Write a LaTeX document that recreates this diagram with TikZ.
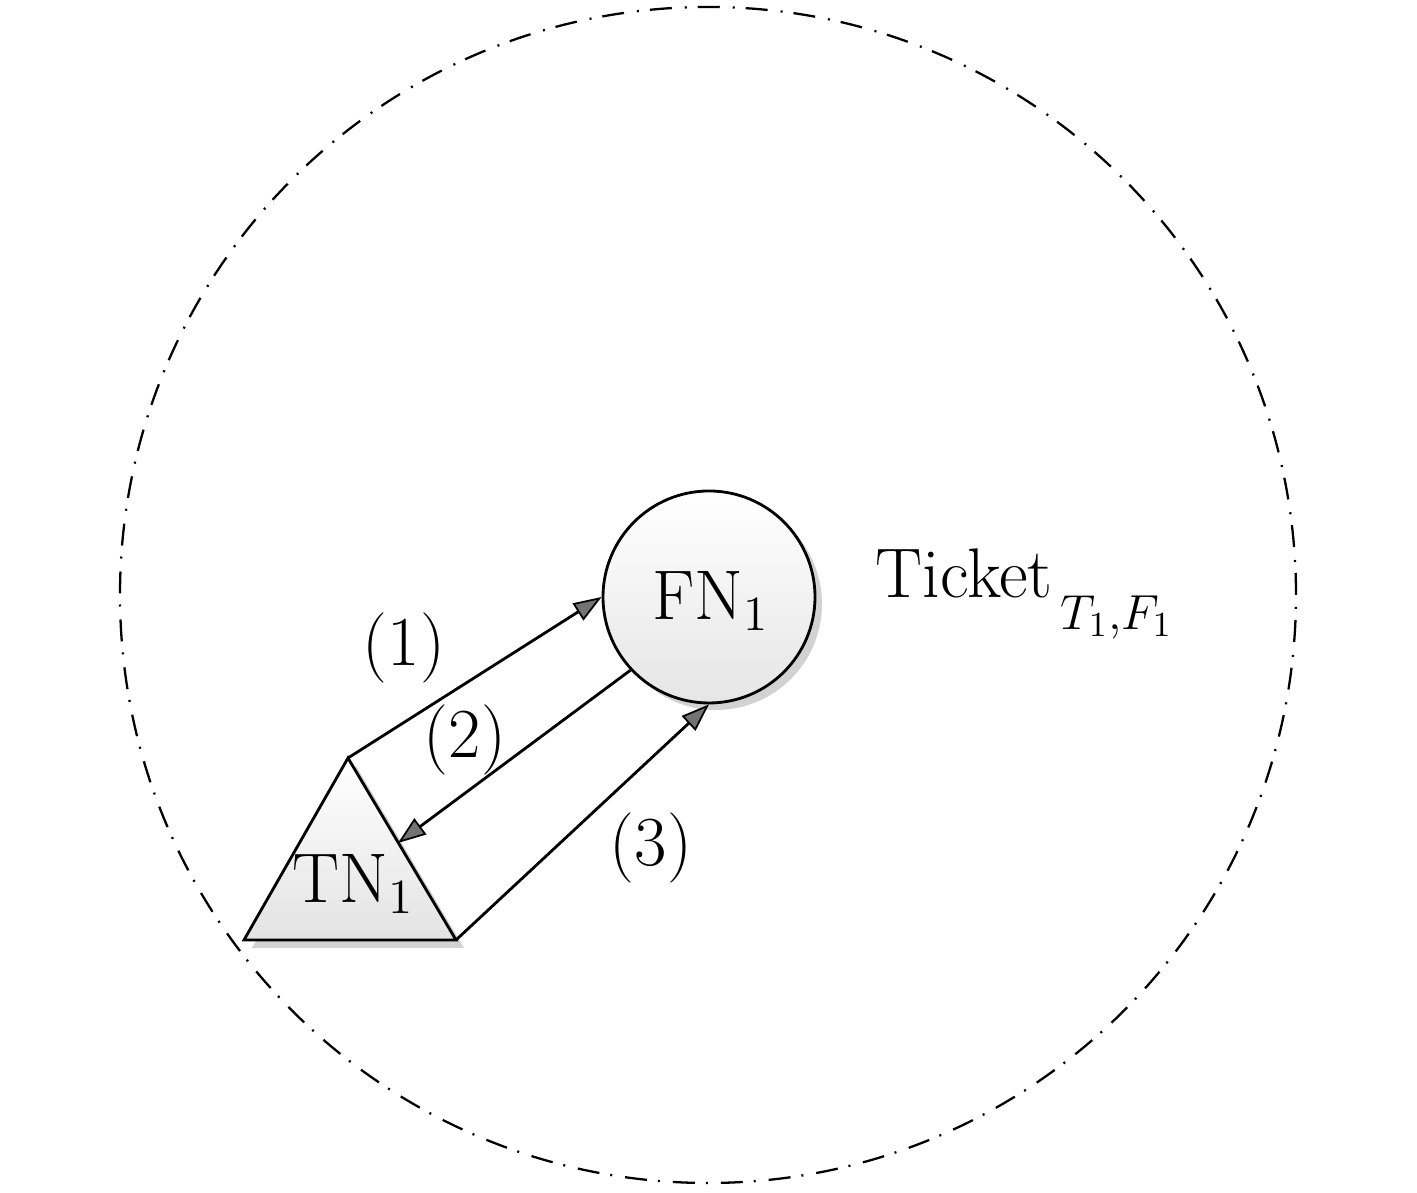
\RequirePackage{fix-cm}
\documentclass[tikz,border=0pt]{standalone}
\usepackage{fontspec}
\usetikzlibrary{arrows.meta,shadings}
\begin{document}
\begin{tikzpicture}[
  every node/.style={font=\fontsize{20}{24}\selectfont},
  link/.style={line width=0.8pt,-{Triangle[length=0.28cm,width=0.2cm,fill=gray!90!black,line width=0.5pt]}},
  sombra/.style={fill=gray!35}]
\useasboundingbox (0,0) rectangle (14.17,11.93);
% Zona
\draw[line width=0.65pt,dash pattern=on 0.22cm off 0.11cm on 0.02cm off 0.13cm] (7.08,5.98) circle (5.88);
% Nodo FN
\fill[sombra] (7.16,5.89) circle (1.06);
\node[circle,draw,line width=0.8pt,minimum size=2.12cm,inner sep=0pt,top color=white,bottom color=gray!20] (fn) at (7.09,5.96) {};
\node[anchor=base] (fntext) at (7.11,5.73) {FN$_1$};
% Nodo TN
\coordinate (apex) at (3.48,4.35);
\coordinate (bl) at (2.44,2.53);
\coordinate (br) at (4.56,2.53);
\coordinate (tside) at (3.98,3.50);
\fill[sombra] (3.56,4.27) -- (2.52,2.45) -- (4.64,2.45) -- cycle;
\draw[line width=0.8pt,top color=white,bottom color=gray!22] (apex) -- (bl) -- (br) -- cycle;
\node[anchor=base] (tntext) at (3.535,2.90) {TN$_1$};
% Mensajes
\draw[link] (apex) -- (fn.west);
\draw[link] (fn.223.5) -- (tside);
\draw[link] (br) -- (fn.south);
\node (m1) at (4.04,5.45) {(1)};
\node (m2) at (4.65,4.53) {(2)};
\node (m3) at (6.51,3.45) {(3)};
% Ticket
\node[anchor=base west,inner sep=0pt] (ticket) at (8.75,5.95) {Ticket${}_{\raisebox{-0.3em}{$\scriptstyle\mkern3mu T_1,F_1$}}$};
\end{tikzpicture}
\end{document}
